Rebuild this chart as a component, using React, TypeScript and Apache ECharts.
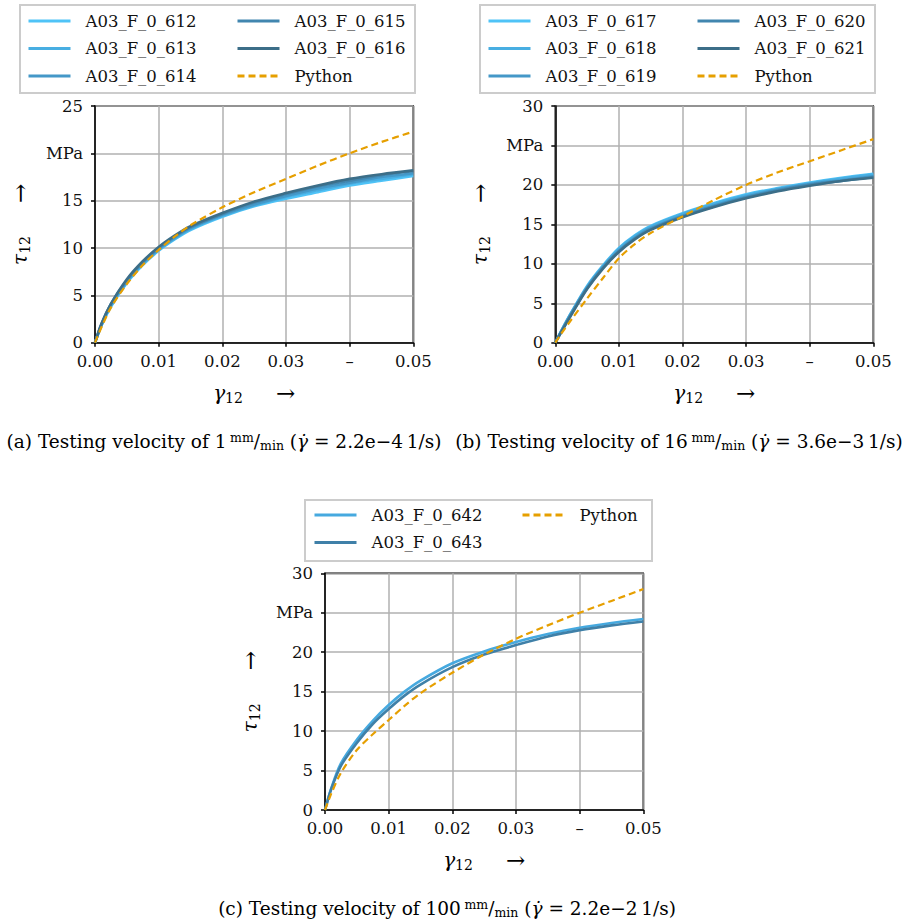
import React, { useEffect, useRef } from "react";
import * as echarts from "echarts";

const FONT = "DejaVu Serif";

// shear strain grid shared by all curves
const strain = [0, 0.001, 0.0025, 0.005, 0.0075, 0.01, 0.0125, 0.015, 0.02, 0.025, 0.03, 0.035, 0.04, 0.045, 0.05];
const xTicksLabels = ["0.00", "0.01", "0.02", "0.03", "–", "0.05"];

// (a) 1 mm/min
const a612 = [0, 1.8, 3.8, 6.3, 8.2, 9.7, 10.9, 11.9, 13.3, 14.4, 15.2, 15.9, 16.6, 17.1, 17.6];
const a613 = [0, 1.8, 3.9, 6.4, 8.3, 9.8, 11.0, 12.0, 13.4, 14.5, 15.4, 16.1, 16.8, 17.3, 17.8];
const a614 = [0, 1.9, 4.0, 6.5, 8.4, 9.9, 11.1, 12.1, 13.5, 14.6, 15.5, 16.3, 16.9, 17.5, 17.9];
const a615 = [0, 1.9, 4.1, 6.6, 8.5, 10.0, 11.2, 12.2, 13.6, 14.8, 15.7, 16.5, 17.1, 17.7, 18.1];
const a616 = [0, 2.0, 4.1, 6.7, 8.6, 10.1, 11.3, 12.3, 13.7, 14.9, 15.8, 16.6, 17.3, 17.8, 18.2];
const aPython = [0, 1.6, 3.7, 6.2, 8.2, 9.8, 11.2, 12.4, 14.3, 15.9, 17.3, 18.7, 20.0, 21.2, 22.3];

// (b) 16 mm/min
const b617 = [0, 1.6, 3.8, 7.2, 9.8, 12.0, 13.6, 14.8, 16.4, 17.7, 18.8, 19.6, 20.3, 20.9, 21.4];
const b618 = [0, 1.6, 3.8, 7.1, 9.7, 11.9, 13.5, 14.7, 16.3, 17.6, 18.7, 19.5, 20.2, 20.8, 21.3];
const b619 = [0, 1.5, 3.7, 7.0, 9.6, 11.7, 13.3, 14.5, 16.1, 17.4, 18.5, 19.4, 20.1, 20.6, 21.1];
const b620 = [0, 1.5, 3.6, 6.9, 9.5, 11.6, 13.2, 14.4, 16.0, 17.3, 18.4, 19.3, 20.0, 20.5, 21.0];
const b621 = [0, 1.4, 3.5, 6.8, 9.4, 11.5, 13.1, 14.3, 15.9, 17.2, 18.3, 19.2, 19.9, 20.5, 20.9];
const bPython = [0, 1.2, 2.9, 5.6, 8.2, 10.7, 12.5, 13.9, 16.0, 18.1, 20.0, 21.6, 23.0, 24.4, 25.8];

// (c) 100 mm/min
const c642 = [0, 2.8, 5.9, 8.9, 11.3, 13.3, 15.0, 16.4, 18.6, 20.1, 21.3, 22.3, 23.1, 23.7, 24.2];
const c643 = [0, 2.7, 5.6, 8.5, 10.9, 12.8, 14.5, 15.9, 18.1, 19.7, 20.9, 22.0, 22.8, 23.4, 23.9];
const cPython = [0, 2.1, 4.7, 7.6, 9.6, 11.4, 13.2, 14.8, 17.4, 19.7, 21.7, 23.4, 25.0, 26.5, 28.0];

const PY_COLOR = "#E69F00";

type Curve = { name: string; values: number[]; color: string };
const panelA: Curve[] = [
  { name: "A03_F_0_612", values: a612, color: "#4FC3F7" },
  { name: "A03_F_0_613", values: a613, color: "#48AEE2" },
  { name: "A03_F_0_614", values: a614, color: "#4498C8" },
  { name: "A03_F_0_615", values: a615, color: "#4186AF" },
  { name: "A03_F_0_616", values: a616, color: "#3C6E88" },
];
const panelB: Curve[] = [
  { name: "A03_F_0_617", values: b617, color: "#4FC3F7" },
  { name: "A03_F_0_618", values: b618, color: "#48AEE2" },
  { name: "A03_F_0_619", values: b619, color: "#4498C8" },
  { name: "A03_F_0_620", values: b620, color: "#4186AF" },
  { name: "A03_F_0_621", values: b621, color: "#3C6E88" },
];
const panelC: Curve[] = [
  { name: "A03_F_0_642", values: c642, color: "#46A9DF" },
  { name: "A03_F_0_643", values: c643, color: "#3F80A8" },
];

const captions = [
  { label: "(a)", speed: "1", rate: "2.2e−4" },
  { label: "(b)", speed: "16", rate: "3.6e−3" },
  { label: "(c)", speed: "100", rate: "2.2e−2" },
];

const grids = [
  { left: 95, top: 106, width: 318.3, height: 236.7, yMax: 25 },
  { left: 555.3, top: 106, width: 318, height: 236.7, yMax: 30 },
  { left: 325, top: 573.3, width: 318.3, height: 236.7, yMax: 30 },
];

const pairs = (ys: number[]) => strain.map((x, i) => [x, ys[i]]);

export default function App() {
  const ref = useRef<HTMLDivElement>(null);
  useEffect(() => {
    if (!ref.current) return;
    const chart = echarts.init(ref.current, null, { renderer: "svg" });

    const TICK = 16.5;
    const nameRich = {
      t: { fontFamily: FONT, fontStyle: "italic", fontSize: 20, lineHeight: 24, verticalAlign: "middle", color: "#000" },
      s: { fontFamily: FONT, fontSize: 14, lineHeight: 11, verticalAlign: "bottom", color: "#000" },
      g: { fontFamily: FONT, fontSize: 10, width: 33 },
      a: { fontFamily: FONT, fontSize: 23, lineHeight: 24, verticalAlign: "middle", color: "#000" },
    };
    const tickRich = { v: { fontFamily: FONT, fontSize: TICK, color: "#111" } };

    const xAxes = grids.map((g, i) => ({
      type: "value",
      gridIndex: i,
      min: 0,
      max: 0.05,
      interval: 0.01,
      name: "{t|γ}{s|12}{g| }{a|→}",
      nameLocation: "middle",
      nameGap: 38,
      nameTextStyle: { rich: nameRich },
      axisLine: { show: true, onZero: false, lineStyle: { color: "#000", width: 1.5 } },
      axisTick: { show: true, inside: false, length: 4, lineStyle: { color: "#000", width: 1.5 } },
      axisLabel: {
        fontFamily: FONT,
        fontSize: TICK,
        color: "#111",
        margin: 10,
        rich: tickRich,
        formatter: (v: number) => `{v|${xTicksLabels[Math.round(v / 0.01)] ?? ""}}`,
      },
      splitLine: { show: true, lineStyle: { color: "#b0b0b0", width: 1.5 } },
    }));

    const yAxes = grids.map((g, i) => ({
      type: "value",
      gridIndex: i,
      min: 0,
      max: g.yMax,
      interval: 5,
      name: "{t|τ}{s|12}{g| }{a|→}",
      nameLocation: "middle",
      nameRotate: 90,
      nameGap: 63,
      nameTextStyle: { rich: nameRich },
      axisLine: { show: true, lineStyle: { color: "#000", width: 1.5 } },
      axisTick: { show: true, inside: false, length: 4, lineStyle: { color: "#000", width: 1.5 } },
      axisLabel: {
        fontFamily: FONT,
        fontSize: TICK,
        color: "#111",
        margin: 12,
        rich: tickRich,
        formatter: (v: number) => `{v|${v === g.yMax - 5 ? "MPa" : String(v)}}`,
      },
      splitLine: { show: true, lineStyle: { color: "#b0b0b0", width: 1.5 } },
    }));

    const series: any[] = [];
    [panelA, panelB, panelC].forEach((panel, i) => {
      panel.forEach((c) => {
        series.push({
          type: "line",
          name: c.name,
          xAxisIndex: i,
          yAxisIndex: i,
          data: pairs(c.values),
          smooth: 0.3,
          symbol: "none",
          color: c.color,
          lineStyle: { color: c.color, width: 2.6 },
        });
      });
      const py = [aPython, bPython, cPython][i];
      series.push({
        type: "line",
        name: "Python",
        xAxisIndex: i,
        yAxisIndex: i,
        data: pairs(py),
        smooth: 0.3,
        symbol: "none",
        color: PY_COLOR,
        lineStyle: { color: PY_COLOR, width: 2.2, type: [7, 4] },
        z: 3,
      });
    });

    const legendBase = {
      orient: "vertical",
      padding: 0,
      itemWidth: 42,
      itemHeight: 14,
      itemGap: 7.5,
      selectedMode: false,
      itemStyle: { opacity: 0 },
      lineStyle: { width: 3 },
      formatter: (name: string) => `{v|${name}}`,
      textStyle: {
        fontFamily: FONT,
        fontSize: TICK,
        lineHeight: 20,
        color: "#111",
        padding: [0, 0, 0, 10],
        rich: { v: { fontFamily: FONT, fontSize: TICK, lineHeight: 20, color: "#111" } },
      },
    };
    const legends = [
      { ...legendBase, left: 27, top: 11, data: panelA.slice(0, 3).map((c) => c.name) },
      { ...legendBase, left: 236, top: 11, data: [...panelA.slice(3).map((c) => c.name), "Python"] },
      { ...legendBase, left: 487, top: 11, data: panelB.slice(0, 3).map((c) => c.name) },
      { ...legendBase, left: 696, top: 11, data: [...panelB.slice(3).map((c) => c.name), "Python"] },
      { ...legendBase, left: 313, top: 505, data: panelC.map((c) => c.name) },
      { ...legendBase, left: 521, top: 505, data: ["Python"] },
    ];

    const boxes = [
      { x: 20, y: 5, w: 395, h: 88 },
      { x: 480, y: 5, w: 395, h: 88 },
      { x: 305, y: 500, w: 347, h: 61 },
    ];

    const capPos = [
      { x: 224, y: 441 },
      { x: 679, y: 441 },
      { x: 447, y: 908 },
    ];
    const CAP = 18.5;
    const capRich = {
      n: { fontFamily: FONT, fontSize: CAP, color: "#111" },
      sp: { fontFamily: FONT, fontSize: 12.5, color: "#111", verticalAlign: "top", lineHeight: 21 },
      sb: { fontFamily: FONT, fontSize: 12.5, color: "#111", verticalAlign: "bottom", lineHeight: 14 },
      i: { fontFamily: FONT, fontSize: CAP, fontStyle: "italic", color: "#111" },
    };

    const graphic: any[] = [
      ...boxes.map((b) => ({
        type: "rect",
        shape: { x: b.x, y: b.y, width: b.w, height: b.h },
        style: { fill: "#fff", stroke: "#cccccc", lineWidth: 2 },
        z: 0,
      })),
      ...captions.map((c, i) => ({
        type: "text",
        x: capPos[i].x,
        y: capPos[i].y,
        style: {
          text: `{n|${c.label} Testing velocity of ${c.speed}\u2009}{sp|mm}{n|/}{sb|min}{n| (}{i|γ̇}{n| = ${c.rate}\u20091/s)}`,
          rich: capRich,
          align: "center",
          verticalAlign: "middle",
          fontFamily: FONT,
          fontSize: CAP,
        },
      })),
    ];

    chart.setOption({
      animation: false,
      backgroundColor: "#fff",
      textStyle: { fontFamily: FONT },
      grid: grids.map((g) => ({
        left: g.left,
        top: g.top,
        width: g.width,
        height: g.height,
        show: true,
        borderColor: "#000",
        borderWidth: 1.5,
        backgroundColor: "transparent",
      })),
      xAxis: xAxes,
      yAxis: yAxes,
      legend: legends,
      graphic,
      series,
    });
    return () => chart.dispose();
  }, []);
  return (
    <div
      ref={ref}
      style={{ position: "absolute", left: 0, top: 0, width: 909, height: 924 }}
    />
  );
}
